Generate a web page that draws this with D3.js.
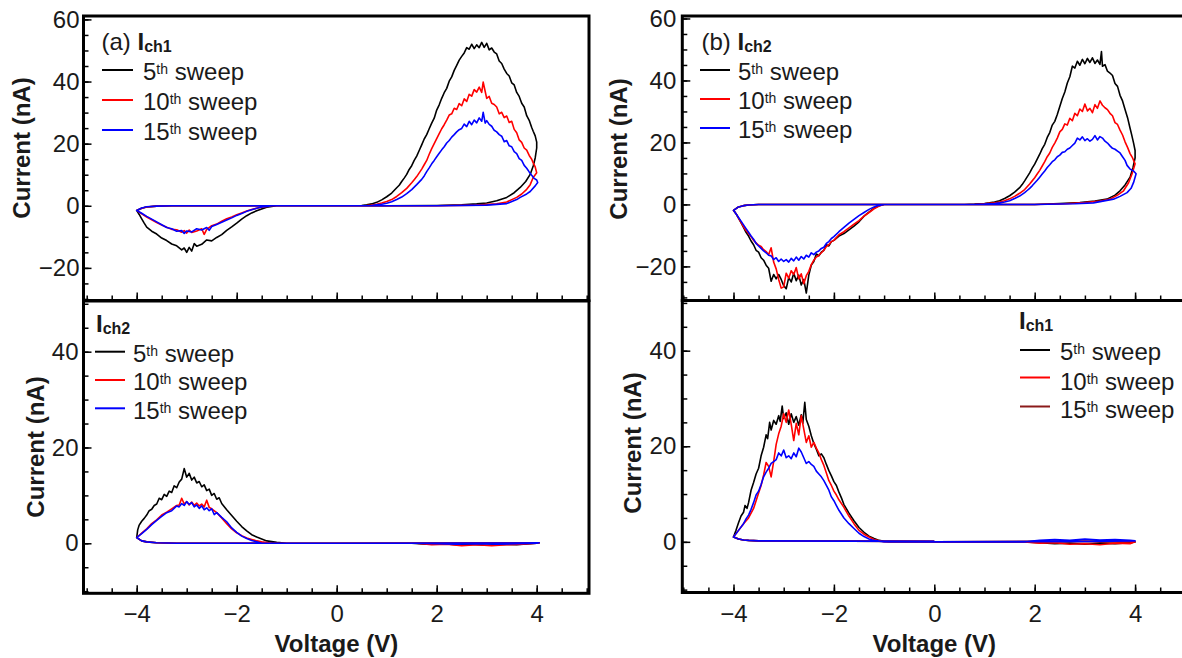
<!DOCTYPE html>
<html>
<head>
<meta charset="utf-8">
<script src="https://cdn.jsdelivr.net/npm/d3@7"></script>
<style>
  html, body { margin: 0; padding: 0; background: #fff; }
  svg { display: block; font-family: Arial, "Liberation Sans", sans-serif; }
</style>
</head>
<body>
<svg id="chart" width="1182" height="658"></svg>
<script>
// ---------- tick values ----------
const xMajor = [-4, -2, 0, 2, 4];
const xMinor = [-5, -4.5, -4, -3.5, -3, -2.5, -2, -1.5, -1, -0.5, 0, 0.5, 1, 1.5, 2, 2.5, 3, 3.5, 4, 4.5, 5];
const yMajorTop = [-20, 0, 20, 40, 60];
const yMinorTop = [-30, -25, -20, -15, -10, -5, 0, 5, 10, 15, 20, 25, 30, 35, 40, 45, 50, 55, 60];
const yMajorBottom = [0, 20, 40];
const yMinorBottom = [-10, -5, 0, 5, 10, 15, 20, 25, 30, 35, 40, 45, 50];

// ---------- legend entries ----------
const sweepNumbers = ["5", "10", "15"];
const sweepColors = ["#000000", "#ff0000", "#0000ff"];
const sweepColorsAlt = ["#000000", "#ff0000", "#8b1a1a"];

// ---------- (a) I_ch1 : [voltage V, current nA], one closed sweep loop each ----------
const ich1A5 = [
  [0,0],[1,0],[2,0.1],[2.5,0.3],[2.8,0.6],[3.0,0.9],[3.2,1.6],[3.4,2.7],[3.55,4.2],[3.67,5.9],[3.78,7.8],[3.87,10.1],[3.93,12.8],[3.97,15.4],[4.0,18.6],
  [4.0,20.5],[3.97,22.5],[3.93,24.0],[3.9,25.2],[3.85,27.5],[3.8,29.0],[3.75,31.8],[3.7,33.0],[3.65,35.2],[3.6,36.5],[3.55,38.9],[3.5,39.6],[3.45,41.8],[3.4,42.6],[3.35,44.0],[3.3,45.8],[3.25,46.6],[3.2,48.9],[3.15,49.5],[3.1,50.8],[3.05,50.2],[3.0,52.3],[2.95,51.0],[2.9,52.6],[2.85,50.9],[2.8,51.8],[2.75,50.6],[2.7,52.0],[2.65,50.4],[2.6,50.9],[2.55,49.2],[2.5,48.1],[2.45,46.9],[2.4,45.2],[2.35,43.6],[2.3,41.5],[2.25,40.1],[2.2,37.8],[2.15,36.4],[2.1,34.6],[2.05,32.5],[2.0,30.8],[1.95,28.2],[1.9,26.6],[1.85,24.8],[1.8,22.9],[1.75,21.5],[1.7,19.6],[1.65,17.8],[1.6,16.0],[1.55,14.6],[1.5,12.9],[1.45,11.7],[1.4,10.1],[1.35,8.9],[1.3,7.8],[1.25,6.6],[1.2,5.8],[1.1,4.1],[1.0,2.9],[0.9,1.9],[0.8,1.1],[0.7,0.6],[0.6,0.3],[0.5,0.1],[0.3,0],[0,0],
  [-1.2,0],[-1.3,-0.2],[-1.4,-0.5],[-1.5,-1.0],[-1.6,-1.6],[-1.7,-2.3],[-1.8,-3.2],[-1.9,-4.3],[-2.0,-5.6],[-2.1,-6.8],[-2.2,-7.9],[-2.3,-9.3],[-2.4,-10.2],[-2.5,-11.3],[-2.6,-11.0],[-2.7,-12.4],[-2.8,-13.0],[-2.85,-12.2],[-2.9,-14.6],[-2.95,-13.4],[-3.0,-15.0],[-3.05,-13.6],[-3.1,-14.2],[-3.2,-12.9],[-3.3,-12.3],[-3.4,-11.2],[-3.5,-10.4],[-3.6,-9.1],[-3.7,-8.2],[-3.8,-6.9],[-3.85,-5.6],[-3.9,-4.2],[-3.95,-2.8],[-4.0,-1.5],
  [-3.9,-0.8],[-3.8,-0.4],[-3.6,-0.1],[-3.3,0],[0,0]
];
const ich1A10 = [
  [0,0],[2,0],[2.8,0.2],[3.2,0.6],[3.4,1.2],[3.6,2.7],[3.7,3.8],[3.8,5.3],[3.87,6.8],[3.93,9.1],[4.0,10.6],
  [3.97,12.5],[3.93,13.8],[3.9,15.0],[3.85,16.2],[3.8,17.9],[3.75,18.6],[3.7,20.4],[3.65,21.2],[3.6,23.5],[3.55,24.6],[3.5,27.2],[3.45,26.8],[3.4,28.9],[3.35,28.4],[3.3,30.1],[3.25,29.6],[3.2,31.8],[3.15,32.6],[3.1,33.0],[3.05,35.2],[3.0,34.6],[2.97,36.8],[2.93,39.8],[2.9,36.5],[2.85,38.2],[2.8,36.6],[2.75,37.4],[2.7,35.3],[2.65,35.9],[2.6,33.6],[2.55,34.4],[2.5,32.2],[2.45,32.9],[2.4,31.0],[2.35,31.4],[2.3,29.6],[2.25,29.2],[2.2,27.6],[2.15,26.1],[2.1,24.8],[2.05,23.2],[2.0,21.6],[1.95,20.0],[1.9,18.4],[1.85,16.6],[1.8,14.6],[1.75,13.2],[1.7,11.8],[1.65,10.6],[1.6,9.4],[1.55,8.4],[1.5,7.4],[1.4,5.6],[1.3,4.2],[1.2,3.0],[1.1,2.0],[1.0,1.4],[0.9,0.9],[0.8,0.5],[0.7,0.2],[0.6,0.1],[0.4,0],[0,0],
  [-1.3,0],[-1.4,-0.2],[-1.5,-0.5],[-1.6,-0.8],[-1.7,-1.2],[-1.8,-1.7],[-1.9,-2.3],[-2.0,-2.9],[-2.1,-3.6],[-2.2,-4.2],[-2.3,-5.0],[-2.4,-5.9],[-2.5,-6.4],[-2.6,-7.6],[-2.65,-9.2],[-2.7,-7.4],[-2.8,-8.1],[-2.9,-8.6],[-2.95,-7.8],[-3.0,-8.8],[-3.05,-8.0],[-3.1,-8.5],[-3.2,-7.7],[-3.3,-7.6],[-3.4,-6.9],[-3.5,-6.2],[-3.6,-5.4],[-3.7,-4.5],[-3.8,-3.6],[-3.9,-2.6],[-4.0,-1.5],
  [-3.9,-0.8],[-3.8,-0.4],[-3.6,-0.1],[-3.3,0],[0,0]
];
const ich1A15 = [
  [0,0],[2,0],[3.0,0.2],[3.4,0.7],[3.6,2.0],[3.67,2.7],[3.8,3.8],[3.87,4.6],[3.97,6.4],[4.02,7.5],
  [4.0,8.3],[3.95,8.8],[3.9,9.8],[3.85,10.9],[3.8,12.1],[3.75,13.0],[3.7,14.6],[3.65,15.2],[3.6,16.8],[3.55,17.4],[3.5,19.0],[3.45,19.3],[3.4,21.0],[3.35,20.6],[3.3,22.4],[3.25,22.9],[3.2,23.8],[3.15,24.3],[3.1,25.6],[3.05,26.2],[3.0,27.4],[2.97,26.6],[2.93,30.1],[2.9,27.2],[2.85,28.3],[2.8,26.7],[2.75,27.6],[2.7,26.1],[2.65,27.2],[2.6,25.5],[2.55,26.3],[2.5,24.9],[2.45,24.5],[2.4,23.8],[2.35,22.9],[2.3,22.1],[2.25,21.0],[2.2,20.2],[2.15,19.0],[2.1,18.0],[2.05,16.9],[2.0,15.8],[1.95,14.6],[1.9,13.5],[1.85,12.2],[1.8,11.0],[1.75,9.6],[1.7,8.5],[1.6,6.8],[1.5,5.2],[1.4,3.9],[1.3,2.8],[1.2,2.0],[1.1,1.3],[1.0,0.8],[0.9,0.5],[0.8,0.3],[0.7,0.1],[0.5,0],[0,0],
  [-1.3,0],[-1.4,-0.2],[-1.5,-0.4],[-1.6,-0.8],[-1.7,-1.3],[-1.8,-1.8],[-1.9,-2.5],[-2.0,-3.1],[-2.1,-3.9],[-2.2,-4.6],[-2.3,-5.3],[-2.4,-6.0],[-2.5,-6.7],[-2.55,-7.9],[-2.6,-7.0],[-2.7,-7.8],[-2.8,-7.4],[-2.9,-8.4],[-3.0,-8.1],[-3.05,-8.9],[-3.1,-8.0],[-3.2,-8.2],[-3.3,-7.4],[-3.4,-7.0],[-3.5,-6.1],[-3.6,-5.2],[-3.7,-4.3],[-3.8,-3.4],[-3.9,-2.4],[-4.0,-1.5],
  [-3.9,-0.7],[-3.8,-0.3],[-3.6,-0.1],[-3.3,0],[0,0]
];

// ---------- (a) I_ch2 ----------
const ich2A5 = [
  [0,0],[1.5,0],[1.8,-0.2],[2.1,-0.1],[2.4,-0.3],[2.7,-0.2],[3.0,-0.4],[3.3,-0.2],[3.6,-0.3],[4.0,0],[4.05,0.1],[3.0,0.05],[0,0],
  [-1.0,0],[-1.2,0.2],[-1.4,0.5],[-1.5,0.9],[-1.6,1.3],[-1.7,1.8],[-1.8,2.6],[-1.9,3.5],[-2.0,4.6],[-2.1,5.8],[-2.2,7.0],[-2.3,8.3],[-2.35,9.5],[-2.4,9.2],[-2.45,10.4],[-2.5,10.0],[-2.55,11.3],[-2.6,11.0],[-2.65,12.2],[-2.7,11.8],[-2.75,12.9],[-2.8,12.6],[-2.85,13.8],[-2.9,13.2],[-2.95,14.6],[-3.0,13.8],[-3.05,15.6],[-3.1,13.4],[-3.15,12.8],[-3.2,11.6],[-3.25,12.0],[-3.3,10.6],[-3.35,10.9],[-3.4,9.8],[-3.45,10.2],[-3.5,9.1],[-3.55,9.4],[-3.6,8.2],[-3.65,7.9],[-3.7,7.1],[-3.75,6.8],[-3.8,5.9],[-3.85,5.2],[-3.9,4.6],[-3.95,3.8],[-3.98,2.8],[-4.0,1.2],
  [-3.9,0.5],[-3.8,0.3],[-3.6,0.1],[-3.2,0],[0,0]
];
const ich2A10 = [
  [0,0],[1.6,0],[1.9,-0.3],[2.2,-0.2],[2.5,-0.5],[2.8,-0.3],[3.1,-0.5],[3.4,-0.3],[3.7,-0.2],[4.0,0],[4.05,0.1],[3.0,0.05],[0,0],
  [-1.3,0],[-1.5,0.3],[-1.6,0.5],[-1.7,0.8],[-1.8,1.1],[-1.9,1.6],[-2.0,2.2],[-2.1,3.0],[-2.2,4.1],[-2.3,5.3],[-2.4,6.4],[-2.5,7.2],[-2.55,7.5],[-2.6,9.0],[-2.65,7.6],[-2.7,8.2],[-2.75,7.8],[-2.8,8.4],[-2.85,7.9],[-2.9,8.6],[-2.95,8.0],[-3.0,8.7],[-3.05,8.2],[-3.1,9.4],[-3.15,8.0],[-3.2,7.9],[-3.3,7.2],[-3.4,6.5],[-3.5,5.9],[-3.6,4.9],[-3.7,4.1],[-3.8,3.0],[-3.9,2.1],[-4.0,1.2],
  [-3.9,0.5],[-3.8,0.3],[-3.6,0.1],[-3.2,0],[0,0]
];
const ich2A15 = [
  [0,0],[1.6,0],[2.0,-0.1],[2.4,-0.2],[2.8,-0.1],[3.2,-0.2],[3.6,-0.1],[4.0,0],[4.05,0.1],[3.0,0.05],[0,0],
  [-1.5,0],[-1.6,0.3],[-1.7,0.6],[-1.8,1.0],[-1.9,1.5],[-2.0,2.3],[-2.1,3.2],[-2.2,4.5],[-2.3,5.4],[-2.4,6.4],[-2.45,6.0],[-2.5,7.2],[-2.55,6.8],[-2.6,7.4],[-2.65,7.0],[-2.7,7.8],[-2.75,7.3],[-2.8,8.0],[-2.85,7.6],[-2.9,8.5],[-2.95,8.1],[-3.0,8.7],[-3.05,7.9],[-3.1,8.3],[-3.15,7.6],[-3.2,7.8],[-3.3,6.8],[-3.4,6.4],[-3.5,5.6],[-3.6,4.8],[-3.7,3.9],[-3.8,2.9],[-3.9,2.0],[-4.0,1.2],
  [-3.9,0.5],[-3.8,0.3],[-3.6,0.1],[-3.2,0],[0,0]
];

// ---------- (b) I_ch2 ----------
const ich2B5 = [
  [0,0],[2,0],[2.5,0.3],[2.9,0.6],[3.2,1.1],[3.44,1.7],[3.6,3.0],[3.7,4.4],[3.8,6.3],[3.9,8.8],[3.96,12.0],[4.0,15.0],
  [4.0,17.4],[3.97,19.8],[3.93,22.6],[3.9,24.6],[3.85,28.0],[3.8,30.6],[3.75,33.4],[3.7,35.2],[3.65,38.1],[3.6,39.0],[3.55,41.6],[3.5,42.4],[3.45,43.0],[3.4,45.1],[3.35,44.6],[3.33,49.3],[3.3,45.2],[3.25,46.6],[3.2,45.5],[3.15,47.3],[3.1,45.8],[3.05,47.1],[3.0,45.4],[2.95,46.8],[2.9,44.9],[2.85,46.2],[2.8,44.0],[2.75,44.6],[2.7,41.2],[2.65,39.2],[2.6,36.3],[2.55,34.2],[2.5,31.6],[2.45,29.0],[2.4,26.8],[2.35,25.6],[2.3,23.2],[2.25,21.6],[2.2,19.4],[2.15,18.0],[2.1,16.2],[2.05,14.6],[2.0,13.0],[1.95,11.7],[1.9,10.2],[1.85,8.9],[1.8,7.6],[1.75,6.4],[1.7,5.4],[1.6,4.0],[1.5,2.8],[1.4,1.9],[1.3,1.2],[1.2,0.8],[1.1,0.5],[1.0,0.3],[0.8,0.1],[0.6,0],[0,0],
  [-1.0,0],[-1.1,-0.4],[-1.2,-1.2],[-1.3,-2.5],[-1.4,-3.8],[-1.5,-5.6],[-1.6,-7.0],[-1.7,-8.2],[-1.8,-9.4],[-1.9,-10.2],[-2.0,-11.6],[-2.05,-12.0],[-2.1,-13.4],[-2.15,-13.0],[-2.2,-14.8],[-2.25,-15.4],[-2.3,-16.6],[-2.35,-16.0],[-2.4,-18.4],[-2.45,-19.6],[-2.5,-22.8],[-2.55,-28.6],[-2.6,-24.2],[-2.65,-26.0],[-2.7,-22.8],[-2.75,-24.6],[-2.8,-22.2],[-2.85,-25.0],[-2.9,-23.6],[-2.95,-27.2],[-3.0,-26.2],[-3.05,-24.2],[-3.1,-22.6],[-3.15,-24.0],[-3.2,-22.6],[-3.25,-24.8],[-3.3,-20.6],[-3.35,-19.6],[-3.4,-18.0],[-3.45,-17.2],[-3.5,-15.4],[-3.55,-14.8],[-3.6,-13.0],[-3.65,-11.8],[-3.7,-10.2],[-3.75,-9.0],[-3.8,-7.4],[-3.85,-5.9],[-3.9,-4.4],[-3.95,-3.0],[-4.0,-1.9],
  [-3.9,-0.8],[-3.8,-0.4],[-3.7,-0.2],[-3.5,0],[0,0]
];
const ich2B10 = [
  [0,0],[2,0],[2.6,0.2],[3.0,0.6],[3.3,1.1],[3.5,1.7],[3.65,3.0],[3.77,4.4],[3.87,7.0],[3.94,9.9],[4.0,13.1],
  [3.95,15.0],[3.9,16.4],[3.85,18.4],[3.8,20.2],[3.75,22.4],[3.7,24.0],[3.65,25.8],[3.6,26.4],[3.55,28.6],[3.5,29.4],[3.45,30.6],[3.4,31.2],[3.35,32.0],[3.3,33.4],[3.25,31.0],[3.2,32.2],[3.15,29.6],[3.1,31.0],[3.05,30.2],[3.0,32.4],[2.95,30.0],[2.9,30.8],[2.85,28.6],[2.8,29.4],[2.75,27.0],[2.7,27.8],[2.65,25.6],[2.6,26.0],[2.55,24.2],[2.5,23.4],[2.45,21.4],[2.4,19.8],[2.35,18.4],[2.3,16.6],[2.25,15.4],[2.2,13.8],[2.15,12.4],[2.1,11.0],[2.05,9.8],[2.0,8.6],[1.95,7.6],[1.9,6.6],[1.85,5.7],[1.8,4.8],[1.7,3.6],[1.6,2.6],[1.5,1.8],[1.4,1.2],[1.3,0.8],[1.2,0.5],[1.0,0.2],[0.8,0],[0,0],
  [-1.0,0],[-1.1,-0.5],[-1.2,-1.4],[-1.3,-2.6],[-1.4,-3.8],[-1.5,-5.2],[-1.6,-6.4],[-1.7,-7.6],[-1.8,-8.8],[-1.9,-9.8],[-2.0,-11.6],[-2.05,-12.0],[-2.1,-13.0],[-2.15,-13.6],[-2.2,-14.8],[-2.25,-15.6],[-2.3,-16.4],[-2.35,-17.0],[-2.4,-18.0],[-2.45,-19.4],[-2.5,-21.6],[-2.55,-23.0],[-2.6,-25.6],[-2.65,-22.4],[-2.7,-24.0],[-2.75,-20.4],[-2.8,-22.6],[-2.85,-21.4],[-2.9,-23.8],[-2.95,-22.2],[-3.0,-26.6],[-3.05,-27.0],[-3.1,-24.2],[-3.15,-20.8],[-3.2,-18.6],[-3.25,-14.0],[-3.3,-16.2],[-3.35,-15.2],[-3.4,-14.6],[-3.45,-13.6],[-3.5,-13.2],[-3.55,-12.4],[-3.6,-11.6],[-3.65,-10.4],[-3.7,-9.4],[-3.75,-8.4],[-3.8,-7.2],[-3.85,-5.8],[-3.9,-4.4],[-3.95,-3.0],[-4.0,-1.9],
  [-3.9,-0.8],[-3.8,-0.4],[-3.7,-0.2],[-3.5,0],[0,0]
];
const ich2B15 = [
  [0,0],[2,0],[2.8,0.2],[3.17,0.5],[3.57,1.7],[3.7,2.6],[3.84,3.8],[3.92,5.2],[3.97,7.1],[4.02,9.9],
  [3.97,10.8],[3.9,11.4],[3.84,12.6],[3.8,14.2],[3.75,15.4],[3.7,16.6],[3.65,17.2],[3.6,17.8],[3.55,18.1],[3.5,18.9],[3.45,19.8],[3.4,20.4],[3.35,21.4],[3.3,21.9],[3.25,20.8],[3.2,22.2],[3.15,21.0],[3.1,20.4],[3.05,21.2],[3.0,20.6],[2.95,21.8],[2.9,20.8],[2.85,21.4],[2.8,19.8],[2.75,19.0],[2.7,18.2],[2.65,17.8],[2.6,17.0],[2.55,16.8],[2.5,15.9],[2.45,15.4],[2.4,14.4],[2.35,13.8],[2.3,12.8],[2.25,11.9],[2.2,10.8],[2.15,9.8],[2.1,8.8],[2.05,7.8],[2.0,6.9],[1.95,6.0],[1.9,5.2],[1.85,4.5],[1.8,3.8],[1.7,2.7],[1.6,1.9],[1.5,1.2],[1.4,0.8],[1.3,0.5],[1.2,0.3],[1.0,0.1],[0.8,0],[0,0],
  [-1.0,0],[-1.1,-0.3],[-1.2,-0.8],[-1.3,-1.6],[-1.4,-2.6],[-1.5,-3.6],[-1.6,-4.8],[-1.7,-6.0],[-1.8,-7.4],[-1.9,-8.8],[-2.0,-10.4],[-2.05,-11.0],[-2.1,-12.0],[-2.15,-12.6],[-2.2,-13.8],[-2.25,-14.2],[-2.3,-15.0],[-2.35,-15.4],[-2.4,-16.2],[-2.45,-15.6],[-2.5,-17.0],[-2.55,-16.4],[-2.6,-17.6],[-2.65,-16.8],[-2.7,-18.0],[-2.75,-17.0],[-2.8,-18.2],[-2.85,-17.4],[-2.9,-18.6],[-2.95,-17.8],[-3.0,-18.4],[-3.05,-17.6],[-3.1,-18.4],[-3.15,-17.2],[-3.2,-17.8],[-3.25,-16.6],[-3.3,-16.4],[-3.35,-15.6],[-3.4,-15.0],[-3.45,-14.2],[-3.5,-13.4],[-3.55,-12.6],[-3.6,-11.2],[-3.65,-10.2],[-3.7,-9.0],[-3.75,-7.8],[-3.8,-6.6],[-3.85,-5.4],[-3.9,-4.2],[-3.95,-3.0],[-4.0,-1.9],
  [-3.9,-0.8],[-3.8,-0.4],[-3.7,-0.2],[-3.5,0],[0,0]
];

// ---------- (b) I_ch1 ----------
const ich1B5 = [
  [0,0],[1.8,0],[2.1,-0.2],[2.4,-0.4],[2.7,-0.3],[3.0,-0.5],[3.3,-0.3],[3.6,-0.4],[3.9,-0.2],[4.0,0],[3.0,0.1],[0,0],
  [-0.9,0],[-1.0,0.1],[-1.1,0.3],[-1.2,0.7],[-1.3,1.2],[-1.4,2.0],[-1.5,3.0],[-1.6,4.4],[-1.7,6.0],[-1.8,7.8],[-1.85,9.2],[-1.9,10.4],[-1.95,11.8],[-2.0,12.6],[-2.05,13.8],[-2.1,14.9],[-2.15,16.2],[-2.2,17.6],[-2.25,18.4],[-2.3,18.0],[-2.35,19.4],[-2.4,20.6],[-2.45,22.2],[-2.5,24.2],[-2.55,25.6],[-2.58,29.2],[-2.62,24.8],[-2.65,26.6],[-2.7,24.4],[-2.75,26.2],[-2.8,25.0],[-2.85,26.8],[-2.9,24.6],[-2.95,27.0],[-3.0,25.8],[-3.03,28.4],[-3.07,25.2],[-3.1,26.4],[-3.15,24.6],[-3.2,25.4],[-3.25,23.4],[-3.28,25.0],[-3.32,21.6],[-3.35,22.4],[-3.4,19.8],[-3.45,18.0],[-3.5,15.4],[-3.55,14.2],[-3.6,12.4],[-3.65,10.8],[-3.7,8.2],[-3.73,7.0],[-3.77,7.6],[-3.8,6.2],[-3.85,5.4],[-3.9,4.0],[-3.95,2.4],[-4.0,1.0],
  [-3.9,0.6],[-3.8,0.4],[-3.7,0.3],[-3.5,0.2],[0,0.1]
];
const ich1B10 = [
  [0,0],[1.8,0],[2.1,-0.3],[2.4,-0.2],[2.7,-0.5],[3.0,-0.4],[3.3,-0.6],[3.6,-0.3],[3.9,-0.4],[4.0,0],[3.0,0.1],[0,0],
  [-1.0,0],[-1.1,0.2],[-1.2,0.5],[-1.3,1.0],[-1.4,1.6],[-1.5,2.4],[-1.6,3.8],[-1.7,5.4],[-1.8,7.2],[-1.9,8.8],[-1.95,9.8],[-2.0,10.6],[-2.05,11.8],[-2.1,12.8],[-2.15,14.4],[-2.2,16.0],[-2.25,17.2],[-2.3,18.6],[-2.35,19.6],[-2.4,20.8],[-2.45,19.8],[-2.5,22.2],[-2.55,20.8],[-2.6,23.6],[-2.65,26.4],[-2.7,22.4],[-2.75,24.8],[-2.8,21.2],[-2.85,24.6],[-2.9,27.6],[-2.95,25.0],[-3.0,26.8],[-3.05,24.2],[-3.1,22.6],[-3.15,20.4],[-3.2,16.8],[-3.25,13.6],[-3.3,15.8],[-3.35,16.6],[-3.4,14.0],[-3.45,11.8],[-3.5,10.2],[-3.55,8.6],[-3.6,7.0],[-3.65,6.0],[-3.7,5.0],[-3.8,3.8],[-3.9,2.4],[-4.0,1.0],
  [-3.9,0.6],[-3.8,0.4],[-3.7,0.3],[-3.5,0.2],[0,0.1]
];
const ich1B15 = [
  [0,0],[1.8,0],[2.1,0.3],[2.4,0.5],[2.7,0.3],[3.0,0.6],[3.3,0.4],[3.6,0.5],[3.9,0.3],[4.0,0.2],[3.0,0.1],[0,0],
  [-1.0,0],[-1.1,0.1],[-1.2,0.3],[-1.3,0.6],[-1.4,1.1],[-1.5,1.8],[-1.6,2.8],[-1.7,3.8],[-1.8,5.0],[-1.9,6.6],[-1.95,7.6],[-2.0,8.6],[-2.05,9.4],[-2.1,10.8],[-2.15,11.8],[-2.2,12.8],[-2.25,13.6],[-2.3,14.2],[-2.35,14.8],[-2.4,15.8],[-2.45,16.2],[-2.5,16.8],[-2.55,16.4],[-2.6,17.6],[-2.65,18.8],[-2.7,19.6],[-2.75,17.8],[-2.8,18.6],[-2.85,17.4],[-2.9,18.0],[-2.95,17.6],[-3.0,19.2],[-3.05,18.0],[-3.1,18.6],[-3.15,17.2],[-3.2,16.8],[-3.25,16.4],[-3.3,15.4],[-3.35,14.6],[-3.4,13.6],[-3.45,12.0],[-3.5,10.6],[-3.55,9.8],[-3.6,8.2],[-3.65,6.8],[-3.7,5.6],[-3.75,4.8],[-3.8,3.8],[-3.9,2.4],[-4.0,1.0],
  [-3.9,0.6],[-3.8,0.4],[-3.7,0.3],[-3.5,0.2],[0,0.1]
];

// ---------- layout ----------
const svg = d3.select("#chart");
const FONT = 24;
const TEXT = "#1a1a1a";

const panels = [
  { id: "aTop", xr: [83.5, 589], xd: [-5.064, 5.046], yr: [300.5, 16], yd: [-30.5, 61.1],
    yMajor: yMajorTop, yMinor: yMinorTop, xLabels: false, yPad: 4,
    curves: [ich1A5, ich1A10, ich1A15],
    yTitle: [22, 148] },
  { id: "aBot", xr: [83.5, 589], xd: [-5.064, 5.046], yr: [593.3, 301], yd: [-10.44, 50.58],
    yMajor: yMajorBottom, yMinor: yMinorBottom, xLabels: true, yPad: 5,
    curves: [ich2A5, ich2A10, ich2A15],
    yTitle: [36, 447] },
  { id: "bTop", xr: [682.3, 1187.8], xd: [-5.02, 5.05], yr: [300.5, 16], yd: [-31.0, 60.8],
    yMajor: yMajorTop, yMinor: yMinorTop, xLabels: false, yPad: 6,
    curves: [ich2B5, ich2B10, ich2B15],
    yTitle: [619, 149] },
  { id: "bBot", xr: [682.3, 1187.8], xd: [-5.02, 5.05], yr: [592.5, 300.5], yd: [-10.6, 50.5],
    yMajor: yMajorBottom, yMinor: yMinorBottom, xLabels: true, yPad: 6,
    curves: [ich1B5, ich1B10, ich1B15],
    yTitle: [633, 443] }
];

const fmt = d3.format("");

panels.forEach(p => {
  const x = d3.scaleLinear().domain(p.xd).range(p.xr);
  const y = d3.scaleLinear().domain(p.yd).range(p.yr);
  const g = svg.append("g").attr("class", "panel-" + p.id);

  // clip region for the data
  g.append("clipPath").attr("id", "clip-" + p.id)
    .append("rect")
    .attr("x", p.xr[0]).attr("y", p.yr[1])
    .attr("width", p.xr[1] - p.xr[0]).attr("height", p.yr[0] - p.yr[1]);

  const line = d3.line().x(d => x(d[0])).y(d => y(d[1]));
  const dataG = g.append("g").attr("clip-path", "url(#clip-" + p.id + ")");
  p.curves.forEach((c, i) => {
    dataG.append("path")
      .datum(c)
      .attr("d", line)
      .attr("fill", "none")
      .attr("stroke", sweepColors[i])
      .attr("stroke-width", 1.6)
      .attr("stroke-linejoin", "round");
  });

  // bottom ticks (inward)
  const xMinorAxis = d3.axisBottom(x).tickValues(xMinor.filter(v => v >= p.xd[0] && v <= p.xd[1]))
    .tickSize(-5).tickFormat("");
  const xMajorAxis = d3.axisBottom(x).tickValues(xMajor).tickSize(-8).tickPadding(12)
    .tickFormat(p.xLabels ? fmt : "");
  g.append("g").attr("transform", `translate(0,${p.yr[0]})`).call(xMinorAxis);
  g.append("g").attr("transform", `translate(0,${p.yr[0]})`).call(xMajorAxis);

  // left ticks (inward)
  const yMinorAxis = d3.axisLeft(y).tickValues(p.yMinor.filter(v => v >= p.yd[0] && v <= p.yd[1]))
    .tickSize(-5).tickFormat("");
  const yMajorAxis = d3.axisLeft(y).tickValues(p.yMajor).tickSize(-8).tickPadding(p.yPad)
    .tickFormat(fmt);
  g.append("g").attr("transform", `translate(${p.xr[0]},0)`).call(yMinorAxis);
  g.append("g").attr("transform", `translate(${p.xr[0]},0)`).call(yMajorAxis);

  g.selectAll(".domain").remove();
  g.selectAll(".tick line").attr("stroke", "#000").attr("stroke-width", 1.5);
  g.selectAll(".tick text")
    .attr("font-size", FONT)
    .attr("font-family", 'Arial, "Liberation Sans", sans-serif')
    .attr("fill", TEXT);

  // frame
  g.append("rect")
    .attr("x", p.xr[0]).attr("y", p.yr[1])
    .attr("width", p.xr[1] - p.xr[0]).attr("height", p.yr[0] - p.yr[1])
    .attr("fill", "none").attr("stroke", "#000").attr("stroke-width", 3);

  // y title
  svg.append("text")
    .attr("transform", `translate(${p.yTitle[0]},${p.yTitle[1]}) rotate(-90)`)
    .attr("text-anchor", "middle")
    .attr("dy", "0.35em")
    .attr("font-size", FONT)
    .attr("font-weight", "bold")
    .attr("fill", TEXT)
    .text("Current (nA)");
});

// x titles
[[336.4, 651.5], [934.3, 651.5]].forEach(([cx, by]) => {
  svg.append("text")
    .attr("x", cx).attr("y", by)
    .attr("text-anchor", "middle")
    .attr("font-size", FONT)
    .attr("font-weight", "bold")
    .attr("fill", TEXT)
    .text("Voltage (V)");
});

// ---------- legends ----------
function legend(cfg) {
  const g = svg.append("g");
  const t = g.append("text").attr("x", cfg.titleX).attr("y", cfg.titleY)
    .attr("font-size", FONT).attr("fill", TEXT);
  if (cfg.prefix) t.append("tspan").text(cfg.prefix + " ");
  t.append("tspan").attr("font-weight", "bold").text("I");
  t.append("tspan").attr("font-weight", "bold").attr("font-size", 16).attr("dy", 2).text(cfg.sub);

  sweepNumbers.forEach((n, i) => {
    const ly = cfg.lineY[i];
    g.append("line")
      .attr("x1", cfg.lineX[0]).attr("x2", cfg.lineX[1])
      .attr("y1", ly).attr("y2", ly)
      .attr("stroke", cfg.colors[i]).attr("stroke-width", 2);
    const tx = g.append("text").attr("x", cfg.textX).attr("y", cfg.textY[i])
      .attr("font-size", FONT).attr("fill", TEXT);
    tx.append("tspan").text(n);
    tx.append("tspan").attr("font-size", 14).attr("dy", -6).text("th");
    tx.append("tspan").attr("dy", 6).text(" sweep");
  });
}

legend({ prefix: "(a)", sub: "ch1", titleX: 101.5, titleY: 50,
  lineX: [102, 133], lineY: [70, 100, 130], textX: 143, textY: [80, 110, 140], colors: sweepColors });
legend({ prefix: null, sub: "ch2", titleX: 96, titleY: 332,
  lineX: [95, 125], lineY: [351.7, 380, 408.3], textX: 133, textY: [361.5, 390, 418.5], colors: sweepColors });
legend({ prefix: "(b)", sub: "ch2", titleX: 701.5, titleY: 50,
  lineX: [700, 730], lineY: [70, 99, 128], textX: 738, textY: [79.5, 108.5, 137.5], colors: sweepColors });
legend({ prefix: null, sub: "ch1", titleX: 1019, titleY: 328.5,
  lineX: [1020, 1050], lineY: [350, 377.5, 406.5], textX: 1060, textY: [360, 389.5, 418], colors: sweepColorsAlt });
</script>
</body>
</html>
